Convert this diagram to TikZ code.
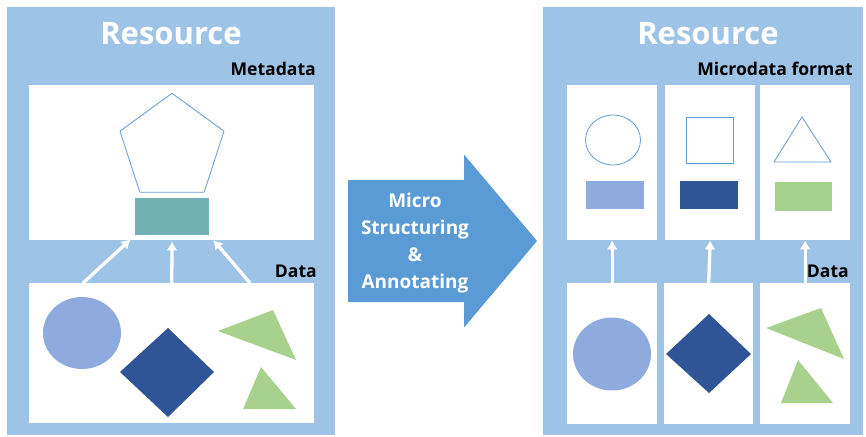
\documentclass[tikz,border=0pt]{standalone}
\usepackage{fontspec}
\setmainfont{Open Sans}
\usepackage{tikz}
\usetikzlibrary{shapes, calc, positioning, arrows.meta}

\definecolor{panelblue}{RGB}{157,195,230}
\definecolor{lineblue}{RGB}{100,155,210}
\definecolor{keyteal}{RGB}{114,176,181}
\definecolor{softblue}{RGB}{143,170,220}
\definecolor{deepblue}{RGB}{47,85,151}
\definecolor{leafgreen}{RGB}{169,209,142}
\definecolor{flowblue}{RGB}{91,155,213}

\begin{document}
\begin{tikzpicture}[x=1pt, y=-1pt]
		\tikzstyle{panel}=[rectangle, fill=panelblue, inner sep=0pt, anchor=north west]
		\tikzstyle{box}=[rectangle, fill=white, inner sep=0pt, anchor=north west]
		\tikzstyle{title}=[inner sep=0pt, text=white, font=\fontsize{31}{37}\selectfont\bfseries]
		\tikzstyle{tag}=[inner sep=0pt, anchor=base east, font=\fontsize{17.6}{21}\selectfont\bfseries]
		\tikzstyle{link}=[->, >={Latex[length=9pt, width=11pt]}, white, line width=3.3pt]
		\tikzstyle{outline}=[draw=lineblue, line width=0.8pt]

		\fill[white] (0,0) rectangle (866,436);
		\useasboundingbox (0,0) rectangle (866,436);

		% left resource
		\node[panel, minimum width=328, minimum height=428] (resA) at (7,7) {};
		\node[title] (titleA) at (171,34) {Resource};
		\node[tag] (metaTag) at (316,75) {Metadata};
		\node[box, minimum width=285, minimum height=155] (meta) at (29,85) {};
		\node[tag] (dataTagA) at (317,277) {Data};
		\node[box, minimum width=285, minimum height=140] (dataA) at (29,283) {};

		\node[regular polygon, regular polygon sides=5, outline, minimum size=109.4,
			inner sep=0pt] (penta) at (172,148) {};
		\node[box, fill=keyteal, minimum width=74, minimum height=37] (key) at (135,198) {};

		\fill[softblue] (82,333) ellipse [x radius=39, y radius=36];
		\fill[deepblue] (120,372) -- (168,328) -- (214,372) -- (168,417) -- cycle;
		\fill[leafgreen] (218,331) -- (273,310) -- (296,360) -- cycle;
		\fill[leafgreen] (261,367) -- (243,409) -- (296,409) -- cycle;

		\coordinate (fromL) at (83,283);
		\coordinate (fromR) at (250,283);
		\draw[link, shorten >=6pt] (fromL) -- (key.south west);
		\draw[link, shorten >=6pt] (dataA.north) -- (key.south);
		\draw[link, shorten >=6pt] (fromR) -- (key.south east);

		% transition
		\fill[flowblue] (348,180) -- (464,180) -- (464,154.5) -- (537,241)
			-- (464,327.5) -- (464,302) -- (348,302) -- cycle;
		\node[inner sep=0pt, text=white, align=center,
			font=\fontsize{19}{27}\selectfont\bfseries] (stepText) at (415,243)
			{Micro\\Structuring\\\&\\Annotating};

		% right resource
		\node[panel, minimum width=320, minimum height=428] (resB) at (543,7) {};
		\node[title] (titleB) at (708,34) {Resource};
		\node[tag] (formatTag) at (853,75) {Microdata format};

		\node[box, minimum width=90, minimum height=155] (topA) at (567,85) {};
		\node[box, minimum width=90, minimum height=155] (topB) at (665,85) {};
		\node[box, minimum width=90, minimum height=155] (topC) at (760,85) {};

		\node[tag] (dataTagB) at (849,277) {Data};
		\node[box, minimum width=90, minimum height=141] (botA) at (567,283) {};
		\node[box, minimum width=89, minimum height=141] (botB) at (664,283) {};
		\node[box, minimum width=90, minimum height=141] (botC) at (760,283) {};

		\draw[outline] (613,140) ellipse [x radius=27.5, y radius=25];
		\fill[softblue] (586,181) rectangle (644,209);
		\draw[outline] (686,117) rectangle (733,163);
		\fill[deepblue] (680,181) rectangle (738,209);
		\draw[outline] (802,117) -- (774,162) -- (831,162) -- cycle;
		\fill[leafgreen] (775,182) rectangle (832,211);

		\fill[softblue] (612,354) ellipse [x radius=39, y radius=36.5];
		\fill[deepblue] (666,354) -- (709,314) -- (751,354) -- (709,393) -- cycle;
		\fill[leafgreen] (766,328) -- (821,308) -- (844,359) -- cycle;
		\fill[leafgreen] (798,360) -- (781,403) -- (833,403) -- cycle;

		\draw[link] (botA.north) -- (topA.south);
		\draw[link] (botB.north) -- (topB.south);
		\draw[link] (botC.north) -- (topC.south);

	\end{tikzpicture}
\end{document}
